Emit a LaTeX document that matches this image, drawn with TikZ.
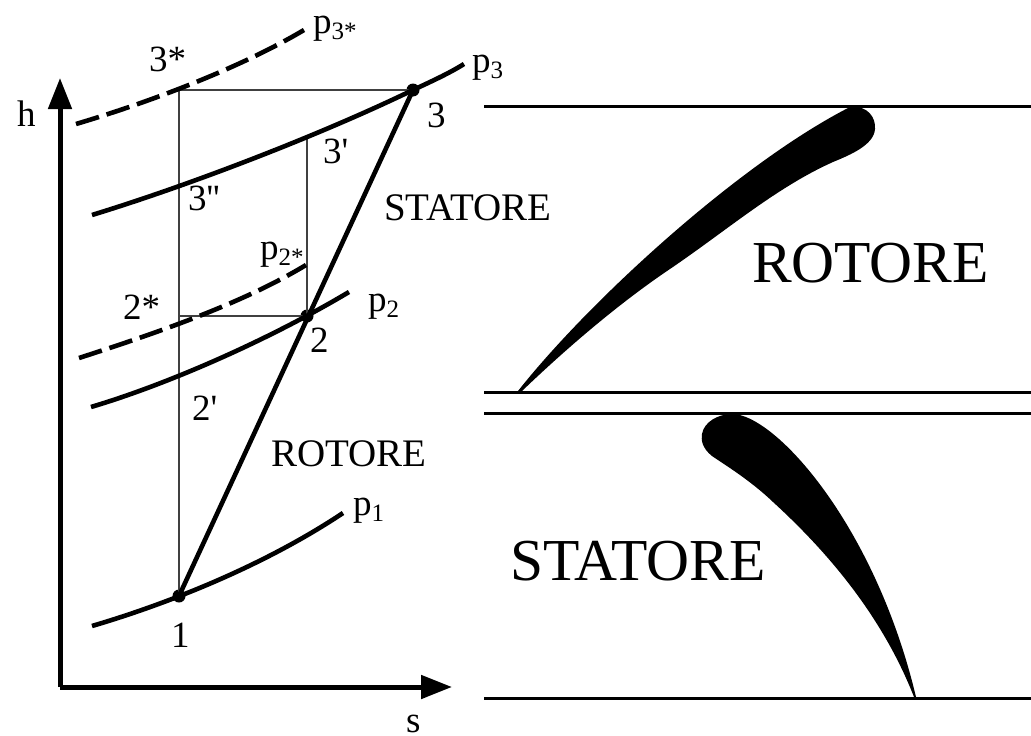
\documentclass[tikz,border=0pt]{standalone}
\usepackage{fontspec}
\newfontfamily\lf{Liberation Serif}
\usetikzlibrary{arrows.meta}
\newcommand{\psize}{\fontsize{37}{40}\selectfont}
\newcommand{\subp}[1]{p\raisebox{-6pt}{\fontsize{25}{27}\selectfont #1}}
\tikzset{
  lbl/.style={anchor=base west,inner sep=0pt,outer sep=0pt,font=\lf\psize,text=black},
  midlbl/.style={anchor=base west,inner sep=0pt,outer sep=0pt,font=\lf\fontsize{39}{42}\selectfont,text=black},
  biglbl/.style={anchor=base west,inner sep=0pt,outer sep=0pt,font=\lf\fontsize{59.5}{62}\selectfont,text=black},
  curve/.style={line width=4.6pt,black},
  dashcurve/.style={curve,dash pattern=on 24pt off 8pt},
  thin line/.style={line width=1.3pt,black!75},
  proc/.style={line width=4.6pt,black},
  axis/.style={line width=5pt,black,-{Triangle[length=31pt,width=23pt]}},
  wall/.style={line width=3pt,black},
  statedot/.style={circle,fill=black,inner sep=0pt,minimum size=13pt},
  blade/.style={fill=black,draw=none}
}
\begin{document}
\begin{tikzpicture}[x=1pt,y=-1pt]
\useasboundingbox (0,0) rectangle (1031,736);
% axes
\coordinate (org) at (60,687);
\coordinate (ytip) at (60,78);
\coordinate (xtip) at (452,687);
\draw[axis] (org) -- (ytip);
\draw[axis] (org) -- (xtip);
% states
\node[statedot] (pt1) at (179,596) {};
\node[statedot] (pt2) at (307,316) {};
\node[statedot] (pt3) at (413,90) {};
% construction lines
\coordinate (c3s) at (179,90);
\coordinate (c2s) at (179,316);
\coordinate (c3p) at (307,138);
\draw[thin line] (pt1.center) -- (c3s) -- (pt3.center);
\draw[thin line] (c2s) -- (pt2.center) -- (c3p);
% isobars
\draw[dashcurve] (76,124) .. controls (150,102) and (240,68) .. (304,30);
\draw[curve] (92,215) .. controls (190,185) and (320,135) .. (413,90) .. controls (430,82) and (448,74) .. (464,64);
\draw[dashcurve] (79,358) .. controls (150,335) and (240,305) .. (306,265);
\draw[curve] (91,407) .. controls (165,385) and (265,342) .. (349,292);
\draw[curve] (92,626) .. controls (170,603) and (265,565) .. (343,513);
% process line
\draw[proc] (pt1.center) -- (pt3.center);
% walls
\coordinate (w1l) at (484,106); \coordinate (w1r) at (1031,106);
\coordinate (w2l) at (484,392); \coordinate (w2r) at (1031,392);
\coordinate (w3l) at (484,413); \coordinate (w3r) at (1031,413);
\coordinate (w4l) at (484,698); \coordinate (w4r) at (1031,698);
\draw[wall] (w1l) -- (w1r);
\draw[wall] (w2l) -- (w2r);
\draw[wall] (w3l) -- (w3r);
\draw[wall] (w4l) -- (w4r);
% blades
\fill[blade] (518,391) .. controls (590,300) and (740,163) .. (850,107)
  .. controls (868,105) and (876,118) .. (875,129)
  .. controls (874,145) and (850,155) .. (833,162)
  .. controls (775,188) and (725,232) .. (667,271)
  .. controls (620,303) and (570,345) .. (522,391) -- cycle;
\fill[blade] (732,414) .. controls (775,414) and (875,525) .. (916,697)
  -- (914,697) .. controls (880,610) and (820,545) .. (773,502)
  .. controls (750,480) and (725,465) .. (712,456)
  .. controls (702,448) and (701,440) .. (702,434)
  .. controls (704,422) and (718,414) .. (732,414) -- cycle;
% labels
\node[lbl] (lh) at (17,126) {h};
\node[lbl] (ls) at (406,732) {s};
\node[lbl] (l3s) at (149,71) {3*};
\node[lbl] (lp3s) at (313,33) {\subp{3*}};
\node[lbl] (lp3) at (472,72) {\subp{3}};
\node[lbl] (l3) at (427,127) {3};
\node[lbl] (l3p) at (323,163) {3'};
\node[lbl] (l3pp) at (188,210) {3''};
\node[midlbl] (lstat) at (384,220) {STATORE};
\node[lbl] (lp2s) at (260,259) {\subp{2*}};
\node[lbl] (l2s) at (123,319) {2*};
\node[lbl] (lp2) at (368,311) {\subp{2}};
\node[lbl] (l2) at (310,352) {2};
\node[lbl] (l2p) at (192,420) {2'};
\node[midlbl] (lrot) at (271,466) {ROTORE};
\node[lbl] (lp1) at (353,515) {\subp{1}};
\node[lbl] (l1) at (171,647) {1};
\node[biglbl] (bigrot) at (752,282) {ROTORE};
\node[biglbl] (bigstat) at (510,580) {STATORE};
\end{tikzpicture}
\end{document}
